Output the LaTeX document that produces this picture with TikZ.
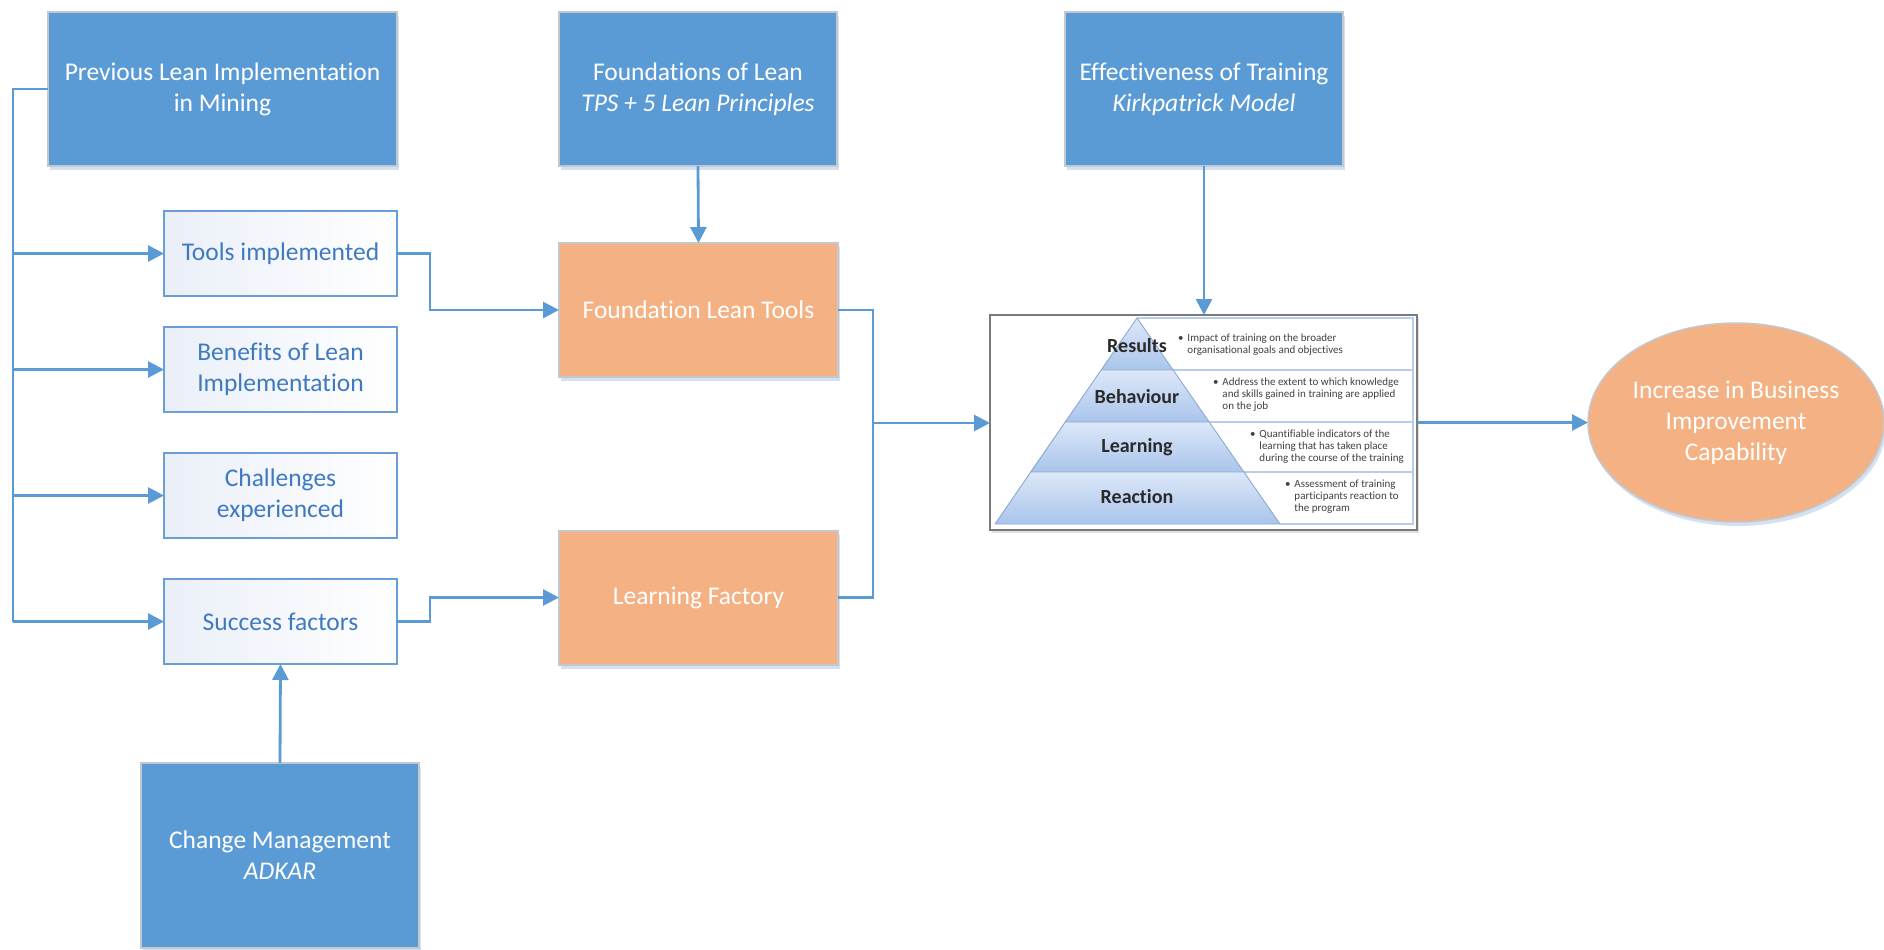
\documentclass[tikz,border=0pt]{standalone}
\usepackage{fontspec}
\setmainfont[Ligatures={NoCommon}]{Carlito}
\usetikzlibrary{arrows.meta,shapes.geometric,shadows}

\definecolor{boxblue}{HTML}{5B9BD5}
\definecolor{boxorange}{HTML}{F4B183}
\definecolor{edgegrey}{HTML}{C3C8CE}
\definecolor{linkblue}{HTML}{5B9BD5}
\definecolor{softtext}{HTML}{3F7AC0}
\definecolor{softedge}{HTML}{6A9FD6}
\definecolor{softfill}{HTML}{EAEFF8}
\definecolor{shadowblue}{HTML}{B9CDE6}
\definecolor{pyrtop}{HTML}{DDE8F8}
\definecolor{pyrbot}{HTML}{A9C4EB}
\definecolor{pyredge}{HTML}{8EAAD2}
\definecolor{rowline}{HTML}{B8CDEA}
\definecolor{framegrey}{HTML}{7A7A7A}
\definecolor{labelgrey}{HTML}{2A2A2A}
\definecolor{descgrey}{HTML}{404040}

\tikzset{
  every node/.style={inner sep=0pt, outer sep=0pt},
  maintext/.style={align=center, font=\fontsize{25.5}{31}\selectfont},
  bluebox/.style={maintext, draw=edgegrey, line width=2pt, fill=boxblue, text=white,
    drop shadow={shadow xshift=2pt, shadow yshift=-4pt, fill=shadowblue, opacity=0.6}},
  orangebox/.style={maintext, draw=edgegrey, line width=2pt, fill=boxorange, text=white,
    minimum width=279pt, minimum height=134pt,
    drop shadow={shadow xshift=2pt, shadow yshift=-4pt, fill=shadowblue, opacity=0.6}},
  softbox/.style={maintext, draw=softedge, line width=2pt, left color=softfill, right color=white,
    text=softtext, minimum width=233pt, minimum height=85pt},
  goalshape/.style={maintext, ellipse, draw=edgegrey, line width=1.5pt, fill=boxorange, text=white,
    minimum width=296pt, minimum height=199pt,
    drop shadow={shadow xshift=2pt, shadow yshift=-4pt, fill=shadowblue, opacity=0.6}},
  frame/.style={draw=framegrey, line width=2pt, fill=white, minimum width=427pt, minimum height=215pt,
    drop shadow={shadow xshift=2pt, shadow yshift=-3pt, fill=black!25, opacity=0.5}},
  link/.style={draw=linkblue, line width=2.8pt},
  arrow/.style={link, -{Triangle[length=16pt, width=16pt]}},
  level/.style={font=\fontsize{20}{22}\selectfont\bfseries, text=labelgrey},
  desc/.style={anchor=west, text=descgrey, font=\fontsize{11}{12}\selectfont}
}

\newcommand{\bulletlines}[1]{%
  \begin{tabular}{@{}l@{\hspace{4pt}}l@{}}\textbullet & #1\end{tabular}}

\begin{document}
\begin{tikzpicture}[x=1pt,y=-1pt]
\useasboundingbox (0,0) rectangle (1884,950);

% left column
\node[bluebox, minimum width=349pt, minimum height=154pt] (prev) at (222.5,89)
  {Previous Lean Implementation\\in Mining};
\node[softbox] (tools) at (280.5,253.5) {Tools implemented};
\node[softbox] (benef) at (280.5,369.5) {Benefits of Lean\\Implementation};
\node[softbox] (chall) at (280.5,495.5) {Challenges\\experienced};
\node[softbox] (succ) at (280.5,621.5) {Success factors};
\node[bluebox, minimum width=278pt, minimum height=185pt] (adkar) at (280,855.5)
  {Change Management\\\textit{ADKAR}};

% middle column
\node[bluebox, minimum width=278pt, minimum height=154pt] (found) at (698,89)
  {Foundations of Lean\\\textit{TPS + 5 Lean Principles}};
\node[orangebox] (flt) at (698.5,310) {Foundation Lean Tools};
\node[orangebox] (lf) at (698.5,597.5) {Learning Factory};

% right side
\node[bluebox, minimum width=278pt, minimum height=154pt] (eff) at (1204,89)
  {Effectiveness of Training\\\textit{Kirkpatrick Model}};
\node[frame] (kirk) at (1203.5,422.5) {};
\node[goalshape] (goal) at (1736,422.5) {Increase in Business\\Improvement\\Capability};

% Kirkpatrick pyramid: description area
\draw[rowline, line width=1.2pt] (1137,318) -- (1413,318) -- (1413,524) -- (1280,524);
\draw[rowline, line width=1.2pt] (1173.1,370) -- (1413,370);
\draw[rowline, line width=1.2pt] (1209.3,422) -- (1413,422);
\draw[rowline, line width=1.2pt] (1244,472) -- (1413,472);

% Kirkpatrick pyramid: four bands
\shade[top color=pyrtop, bottom color=pyrbot] (1137,318) -- (1173.1,370) -- (1100.9,370) -- cycle;
\shade[top color=pyrtop, bottom color=pyrbot] (1100.9,370) -- (1173.1,370) -- (1209.3,422) -- (1064.7,422) -- cycle;
\shade[top color=pyrtop, bottom color=pyrbot] (1064.7,422) -- (1209.3,422) -- (1244,472) -- (1030,472) -- cycle;
\shade[top color=pyrtop, bottom color=pyrbot] (1030,472) -- (1244,472) -- (1280,524) -- (995,524) -- cycle;
\draw[pyredge, line width=0.9pt, line join=round]
  (1137,318) -- (1280,524) -- (995,524) -- cycle
  (1100.9,370) -- (1173.1,370)
  (1064.7,422) -- (1209.3,422)
  (1030,472) -- (1244,472);

\node[level] (lvres) at (1137,346) {Results};
\node[level] (lvbeh) at (1137,397) {Behaviour};
\node[level] (lvlea) at (1137,447) {Learning};
\node[level] (lvrea) at (1137,497) {Reaction};

\node[desc] (dsres) at (1178,345) {\bulletlines{Impact of training on the broader\\ & organisational goals and objectives}};
\node[desc] (dsbeh) at (1213,395) {\bulletlines{Address the extent to which knowledge\\ & and skills gained in training are applied\\ & on the job}};
\node[desc] (dslea) at (1250,447) {\bulletlines{Quantifiable indicators of the\\ & learning that has taken place\\ & during the course of the training}};
\node[desc] (dsrea) at (1285,497) {\bulletlines{Assessment of training\\ & participants reaction to\\ & the program}};

% connectors
\coordinate (trunk) at (13,89);
\draw[link] (prev.west) -- (trunk) -- (trunk |- succ.west);
\draw[arrow] (trunk |- tools.west) -- (tools.west);
\draw[arrow] (trunk |- benef.west) -- (benef.west);
\draw[arrow] (trunk |- chall.west) -- (chall.west);
\draw[arrow] (trunk |- succ.west) -- (succ.west);

\draw[arrow] (tools.east) -- ++(33,0) |- (flt.west);
\draw[arrow] (succ.east) -- ++(33,0) |- (lf.west);
\draw[arrow] (adkar.north) -- (succ.south);
\draw[arrow] (found.south) -- (flt.north);

\coordinate (join) at (873,423);
\draw[link] (flt.east) -| (join) |- (lf.east);
\draw[arrow] (join) -- (join -| kirk.west);
\draw[arrow] (eff.south) -- (eff.south |- kirk.north);
\draw[arrow] (kirk.east) -- (goal.west);
\end{tikzpicture}
\end{document}
